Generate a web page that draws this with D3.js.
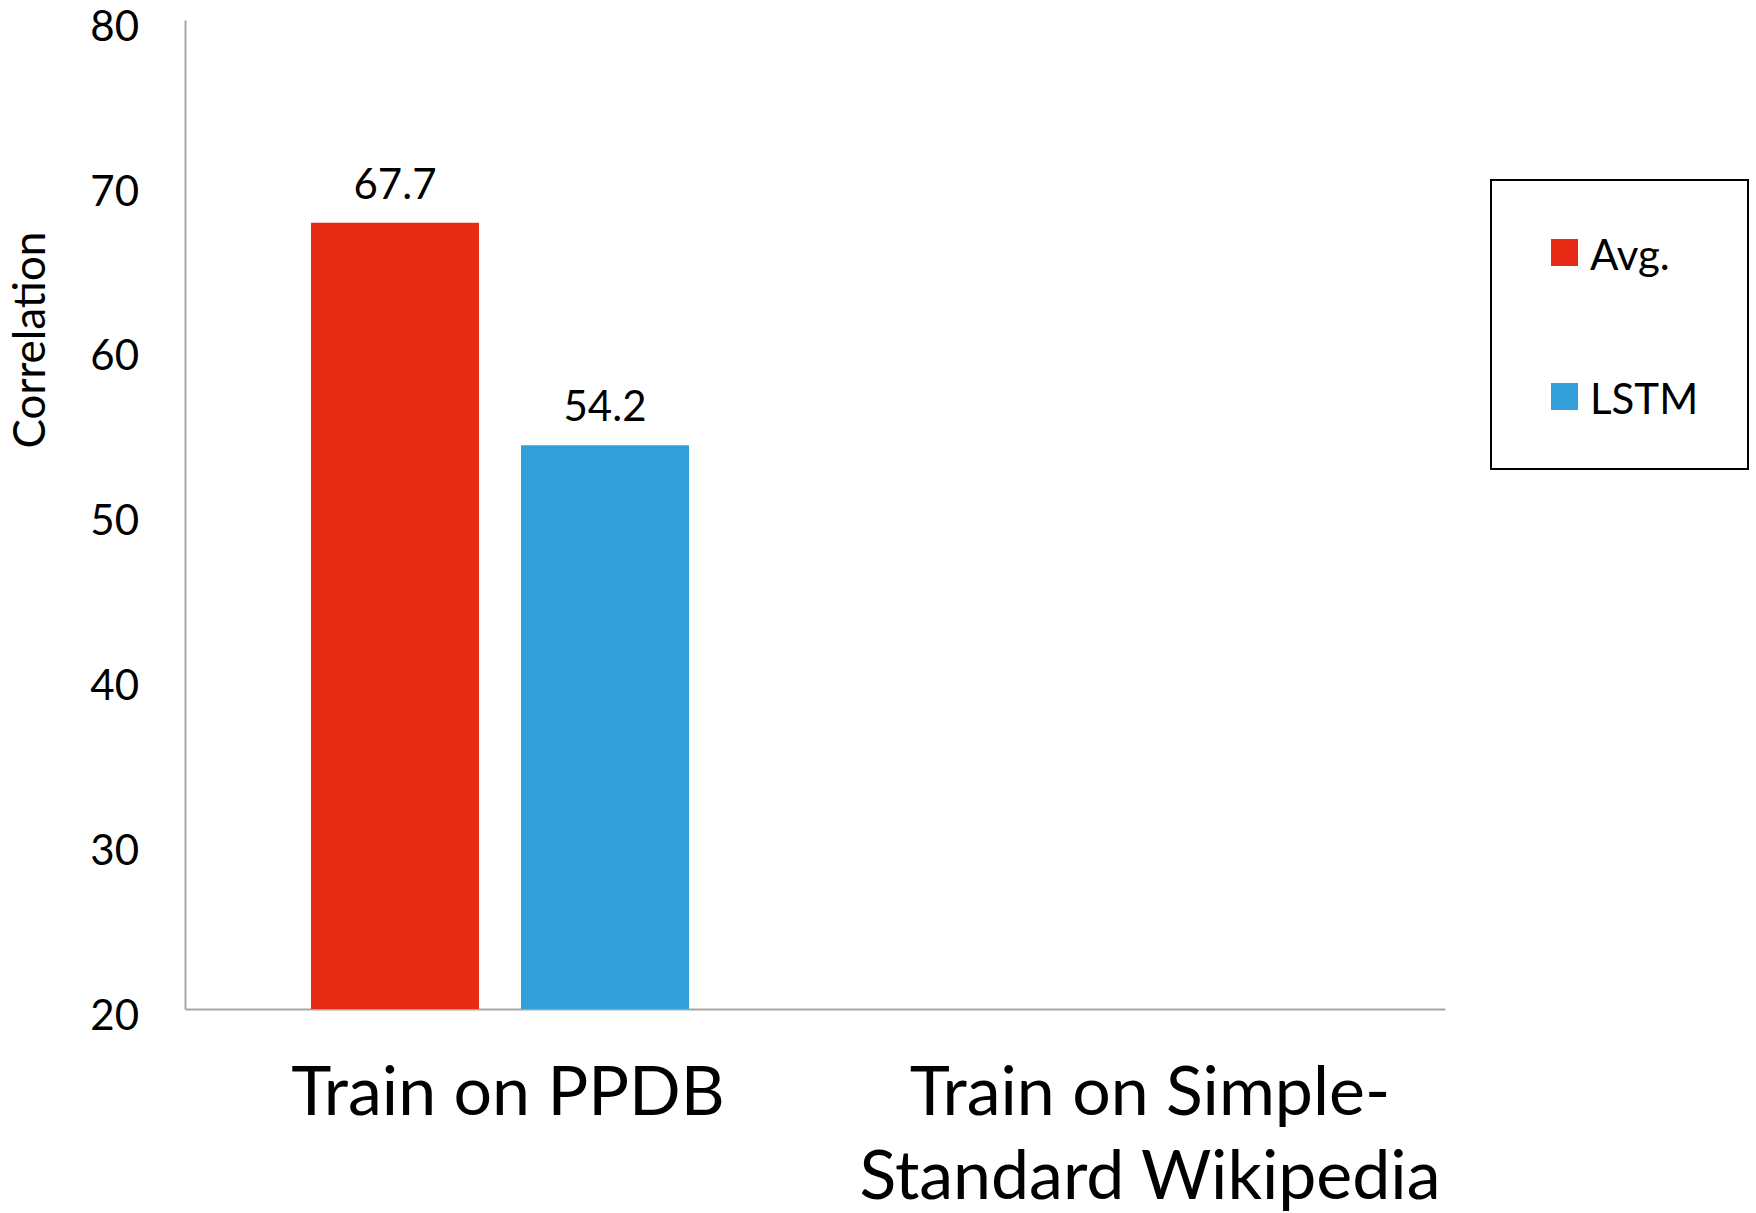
<!DOCTYPE html>
<html>
<head>
<meta charset="utf-8">
<script src="https://cdn.jsdelivr.net/npm/d3@7"></script>
<style>
  html, body { margin: 0; padding: 0; background: #fff; }
  svg { display: block; font-family: Lato, "Open Sans", sans-serif; }
</style>
</head>
<body>
<svg id="chart" width="1756" height="1213"></svg>
<script>
// Data
const categories = ["Train on PPDB", "Train on Simple-Standard Wikipedia"];
const categoryLines = [["Train on PPDB"], ["Train on Simple-", "Standard Wikipedia"]];
const seriesNames = ["Avg.", "LSTM"];
const avgValues = [67.7, null];
const lstmValues = [54.2, null];
const yTicks = [20, 30, 40, 50, 60, 70, 80];
const seriesColors = ["#E52B14", "#329FDB"];

const svg = d3.select("#chart");
const plot = { left: 185, right: 1445, top: 20, bottom: 1009 };

const y = d3.scaleLinear().domain([20, 80]).range([plot.bottom, plot.top]);
const x0 = d3.scaleBand().domain(categories).range([plot.left, plot.right]);
const x1 = d3.scaleBand().domain(seriesNames).range([0, x0.bandwidth()])
  .paddingInner(0.2).paddingOuter(0.6);
const color = d3.scaleOrdinal().domain(seriesNames).range(seriesColors);

const rows = categories.map((c, i) => ({
  category: c,
  values: [
    { series: seriesNames[0], value: avgValues[i] },
    { series: seriesNames[1], value: lstmValues[i] }
  ].filter(d => d.value != null)
}));

// Y axis: line and labels, no tick marks
const yAxis = d3.axisLeft(y).tickValues(yTicks).tickSize(0).tickPadding(46);
const yg = svg.append("g").attr("transform", `translate(${plot.left},0)`).call(yAxis);
yg.select(".domain").attr("stroke", "#A6A6A6").attr("stroke-width", 2);
yg.selectAll(".tick text")
  .attr("font-family", "Lato, 'Open Sans', sans-serif")
  .attr("font-size", 42).attr("dy", "0.48em").attr("fill", "#000");

// X axis baseline
const xAxis = d3.axisBottom(x0).tickSize(0).tickFormat("");
const xg = svg.append("g").attr("transform", `translate(0,${plot.bottom})`).call(xAxis);
xg.select(".domain").attr("stroke", "#A6A6A6").attr("stroke-width", 2);

// Bars
const groups = svg.append("g").selectAll("g").data(rows).join("g")
  .attr("transform", d => `translate(${x0(d.category)},0)`);

groups.selectAll("rect").data(d => d.values).join("rect")
  .attr("x", d => x1(d.series))
  .attr("y", d => y(d.value))
  .attr("width", x1.bandwidth())
  .attr("height", d => y(20) - y(d.value))
  .attr("fill", d => color(d.series));

groups.selectAll("text.value").data(d => d.values).join("text")
  .attr("class", "value")
  .attr("x", d => x1(d.series) + x1.bandwidth() / 2)
  .attr("y", d => y(d.value) - 24)
  .attr("text-anchor", "middle")
  .attr("font-size", 42)
  .attr("fill", "#000")
  .text(d => d.value.toFixed(1));

// Category labels
const catLabels = svg.append("g").selectAll("text").data(categories).join("text")
  .attr("x", (d, i) => x0(d) + x0.bandwidth() / 2 + (i === 0 ? 8 : 20))
  .attr("y", 1115)
  .attr("text-anchor", "middle")
  .attr("font-size", 68)
  .attr("fill", "#000");
catLabels.each(function(d, i) {
  const t = d3.select(this);
  categoryLines[i].forEach((line, j) => {
    t.append("tspan")
      .attr("x", t.attr("x"))
      .attr("dy", j === 0 ? 0 : 84)
      .text(line);
  });
});

// Y axis title
svg.append("text")
  .attr("transform", "translate(45,340) rotate(-90)")
  .attr("text-anchor", "middle")
  .attr("font-size", 44)
  .attr("fill", "#000")
  .text("Correlation");

// Legend
const legend = svg.append("g");
legend.append("rect")
  .attr("x", 1491).attr("y", 180).attr("width", 257).attr("height", 289)
  .attr("fill", "#fff").attr("stroke", "#000").attr("stroke-width", 2);
const items = legend.selectAll("g.item").data(seriesNames).join("g")
  .attr("class", "item")
  .attr("transform", (d, i) => `translate(1551,${239 + i * 144})`);
items.append("rect")
  .attr("width", 27).attr("height", 27)
  .attr("fill", d => color(d));
items.append("text")
  .attr("x", 39).attr("y", 31)
  .attr("font-size", 42).attr("fill", "#000")
  .text(d => d);
</script>
</body>
</html>
